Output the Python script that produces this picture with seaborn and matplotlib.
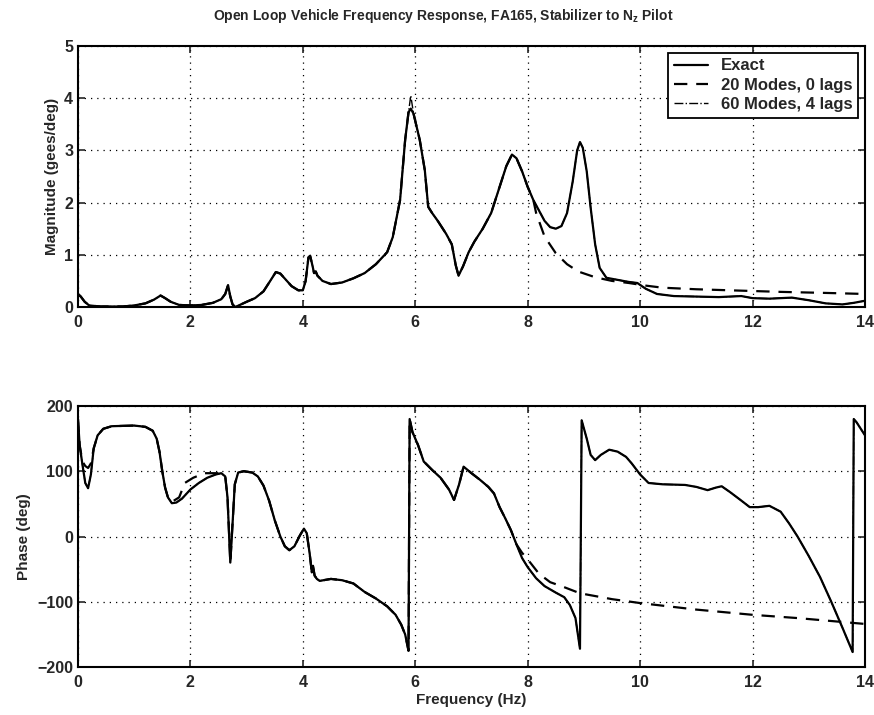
import numpy as np
import pandas as pd
import seaborn as sns
import matplotlib
matplotlib.use("Agg")
import matplotlib.pyplot as plt

# ---- magnitude, exact
mag_freq = [0.0, 0.05, 0.12, 0.2, 0.4, 0.8, 1.0, 1.2, 1.35, 1.47, 1.55, 1.65, 1.8, 2.0, 2.2,
            2.4, 2.55, 2.62, 2.67, 2.71, 2.75, 2.8, 2.9, 3.0, 3.15, 3.3, 3.42, 3.52, 3.6, 3.7,
            3.8, 3.92, 4.0, 4.05, 4.1, 4.13, 4.17, 4.2, 4.23, 4.26, 4.35, 4.5, 4.7, 4.9, 5.1,
            5.3, 5.5, 5.6, 5.73, 5.82, 5.88, 5.92, 5.97, 6.08, 6.17, 6.23, 6.3, 6.4, 6.55,
            6.65, 6.72, 6.77, 6.85, 6.95, 7.05, 7.2, 7.35, 7.5, 7.62, 7.72, 7.8, 7.9, 8.0,
            8.1, 8.2, 8.3, 8.4, 8.5, 8.6, 8.7, 8.8, 8.88, 8.93, 8.98, 9.05, 9.12, 9.2, 9.28,
            9.4, 9.6, 9.8, 9.95, 10.1, 10.3, 10.6, 11.0, 11.4, 11.8, 12.0, 12.3, 12.7, 13.0,
            13.3, 13.6, 13.8, 14.0]
mag_exact = [0.25, 0.2, 0.1, 0.03, 0.01, 0.01, 0.03, 0.07, 0.14, 0.22, 0.17, 0.1, 0.04, 0.03, 0.04,
             0.08, 0.15, 0.25, 0.42, 0.2, 0.05, 0.0, 0.05, 0.1, 0.17, 0.3, 0.5, 0.67, 0.64, 0.52,
             0.4, 0.32, 0.32, 0.5, 0.95, 0.98, 0.8, 0.65, 0.68, 0.6, 0.5, 0.44, 0.47, 0.55, 0.65,
             0.82, 1.05, 1.34, 2.05, 3.2, 3.73, 3.8, 3.7, 3.2, 2.62, 1.92, 1.8, 1.65, 1.4,
             1.2, 0.8, 0.6, 0.78, 1.05, 1.25, 1.5, 1.8, 2.3, 2.7, 2.92, 2.85, 2.6, 2.3,
             2.05, 1.85, 1.65, 1.53, 1.5, 1.55, 1.8, 2.4, 3.0, 3.16, 3.05, 2.6, 1.9, 1.2, 0.75,
             0.56, 0.52, 0.48, 0.46, 0.35, 0.25, 0.21, 0.2, 0.19, 0.21, 0.17, 0.16, 0.18, 0.13,
             0.07, 0.05, 0.08, 0.12]

# 20 modes, 0 lags: departs from the exact curve above ~8.1 Hz
mag20_tail_freq = [8.15, 8.3, 8.5, 8.7, 8.9, 9.2, 9.5, 9.8, 10.1, 10.4, 11.0, 11.6, 12.5, 13.3, 14.0]
mag20_tail = [1.8, 1.35, 1.03, 0.82, 0.68, 0.57, 0.5, 0.46, 0.41, 0.37, 0.34, 0.32, 0.29, 0.27, 0.25]

# ---- phase, exact
ph_freq = [0.0, 0.03, 0.08, 0.13, 0.18, 0.23, 0.28, 0.35, 0.45, 0.6, 1.0, 1.2, 1.33, 1.4, 1.45,
           1.5, 1.55, 1.6, 1.67, 1.75, 1.85, 2.0, 2.15, 2.3, 2.45, 2.55, 2.62, 2.66, 2.71, 2.75,
           2.79, 2.85, 2.95, 3.1, 3.2, 3.3, 3.4, 3.5, 3.6, 3.68, 3.76, 3.85, 3.95, 4.02, 4.07,
           4.12, 4.16, 4.18, 4.21, 4.25, 4.3, 4.5, 4.7, 4.9, 5.1, 5.3, 5.5, 5.65, 5.75, 5.82,
           5.88, 5.9, 5.95, 6.05, 6.15, 6.3, 6.45, 6.6, 6.69, 6.78, 6.86, 7.0, 7.15, 7.3, 7.4,
           7.5, 7.6, 7.7, 7.8, 7.9, 8.0, 8.15, 8.3, 8.5, 8.65, 8.75, 8.85, 8.93, 8.96, 9.05,
           9.12, 9.2, 9.3, 9.45, 9.6, 9.75, 9.85, 10.0, 10.15, 10.4, 10.8, 11.0, 11.2, 11.35,
           11.45, 11.6, 11.8, 11.95, 12.1, 12.3, 12.5, 12.65, 12.8, 13.0, 13.2, 13.4, 13.6,
           13.78, 13.8, 13.85, 14.0]
ph_exact = [180, 140, 110, 82, 74, 95, 135, 155, 165, 169, 170, 168, 162, 150, 130,
            100, 75, 60, 51, 52, 58, 72, 82, 90, 95, 97, 92, 60, -40, 20,
            80, 98, 100, 98, 92, 78, 55, 25, 0, -15, -21, -15, 2, 12, 5,
            -25, -55, -45, -60, -65, -68, -65, -67, -72, -85, -95, -107, -120, -135, -150,
            -175, 180, 160, 140, 115, 102, 90, 72, 56, 80, 107, 97, 87, 76, 66,
            45, 28, 10, -12, -33, -47, -64, -76, -86, -93, -105, -125, -172, 178, 150,
            125, 117, 125, 133, 130, 122, 112, 95, 82, 80, 79, 76, 71, 75,
            77, 68, 55, 45, 45, 47, 38, 20, 0, -30, -62, -100, -140,
            -177, 180, 175, 155]

# 20 modes, 0 lags: small differences at low frequency, departs above ~7.8 Hz
ph20_low_freq = [0.0, 0.03, 0.08, 0.13, 0.18, 0.23, 0.28]
ph20_low = [180, 140, 115, 108, 105, 112, 135]
ph20_mid_freq = [1.67, 1.8, 1.9, 2.05, 2.25, 2.5]
ph20_mid = [53, 60, 82, 90, 97, 97]
ph20_tail_freq = [7.9, 8.0, 8.2, 8.4, 8.63, 8.93, 9.5, 10.0, 11.0, 12.0, 12.8, 13.6, 14.0]
ph20_tail = [-25, -35, -57, -70, -77, -87, -96, -102, -112, -120, -125, -131, -134]

# 60 modes, 4 lags: on top of the exact curve, slightly higher peak near 6 Hz
mag60_peak = {5.92: 4.05}


def build_tables():
    f = np.array(mag_freq)
    m = np.array(mag_exact)
    keep = f < 8.12
    mag20 = pd.DataFrame({"f": np.r_[f[keep], mag20_tail_freq], "v": np.r_[m[keep], mag20_tail]})
    m60 = m.copy()
    for k, v in mag60_peak.items():
        m60[np.isclose(f, k)] = v
    mag60 = pd.DataFrame({"f": f, "v": m60})
    magx = pd.DataFrame({"f": f, "v": m})

    p = np.array(ph_freq)
    ph = np.array(ph_exact)
    seg1 = (p > 0.3) & (p < 1.67)
    seg2 = (p > 2.5) & (p < 7.85)
    pf = np.r_[ph20_low_freq, p[seg1], ph20_mid_freq, p[seg2], ph20_tail_freq]
    pv = np.r_[ph20_low, ph[seg1], ph20_mid, ph[seg2], ph20_tail]
    ph20 = pd.DataFrame({"f": pf, "v": pv})
    phx = pd.DataFrame({"f": p, "v": ph})
    return magx, mag20, mag60, phx, ph20


magx, mag20, mag60, phx, ph20 = build_tables()

sns.set_style("ticks")
plt.rcParams["font.family"] = ["Liberation Sans", "DejaVu Sans"]
plt.rcParams["font.weight"] = "bold"
plt.rcParams["axes.labelweight"] = "bold"
plt.rcParams["axes.unicode_minus"] = True

fig = plt.figure(figsize=(8.74, 7.15), dpi=100)
ax1 = fig.add_axes([0.0892, 0.5706, 0.9005, 0.3651])
ax2 = fig.add_axes([0.0892, 0.0671, 0.9005, 0.3651])

lw = 1.6
sns.lineplot(data=magx, x="f", y="v", ax=ax1, color="k", lw=lw, estimator=None, sort=False, label="Exact")
sns.lineplot(data=mag20, x="f", y="v", ax=ax1, color="k", lw=lw, estimator=None, sort=False,
             linestyle=(0, (6, 4)), label="20 Modes, 0 lags")
sns.lineplot(data=mag60, x="f", y="v", ax=ax1, color="k", lw=1.0, estimator=None, sort=False,
             linestyle="-.", label="60 Modes, 4 lags")

sns.lineplot(data=phx, x="f", y="v", ax=ax2, color="k", lw=lw, estimator=None, sort=False)
sns.lineplot(data=ph20, x="f", y="v", ax=ax2, color="k", lw=lw, estimator=None, sort=False,
             linestyle=(0, (6, 4)))
sns.lineplot(data=phx, x="f", y="v", ax=ax2, color="k", lw=1.0, estimator=None, sort=False,
             linestyle="-.")

for ax in (ax1, ax2):
    ax.set_xlim(0, 14)
    ax.set_xticks(range(0, 15, 2))
    ax.grid(True, color="k", linestyle=(0, (1, 4)), linewidth=0.9)
    ax.tick_params(direction="in", top=True, right=True, length=5, width=1.2, labelsize=11.5)
    ax.tick_params(axis="x", pad=6)
    for s in ax.spines.values():
        s.set_linewidth(1.5)
        s.set_color("k")
    ax.set_xlabel("")

ax1.set_ylim(0, 5)
ax1.set_yticks(range(0, 6))
ax1.set_ylabel("Magnitude (gees/deg)", fontsize=11)
ax2.set_ylim(-200, 200)
ax2.set_yticks(range(-200, 201, 100))
ax2.set_ylabel("Phase (deg)", fontsize=11)
ax2.set_xlabel("Frequency (Hz)", fontsize=11, labelpad=2)

leg = ax1.legend(loc="upper right", fancybox=False, edgecolor="k", framealpha=1,
                 fontsize=12, handlelength=2.0, borderpad=0.35, labelspacing=0.25,
                 borderaxespad=0.4)
leg.get_frame().set_linewidth(1.3)

fig.text(0.507, 0.978, "Open Loop Vehicle Frequency Response, FA165, Stabilizer to N$_\\mathregular{z}$ Pilot",
         ha="center", va="center", fontsize=10)

fig.savefig("out.png", dpi=100)
